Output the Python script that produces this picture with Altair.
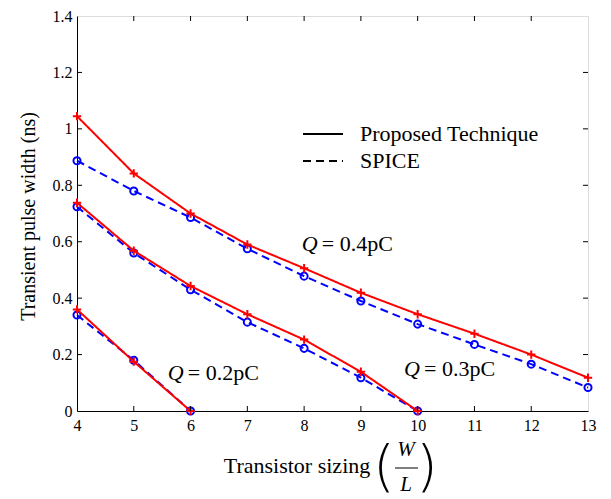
import altair as alt
import pandas as pd

# ---- data ----
x_04 = [4, 5, 6, 7, 8, 9, 10, 11, 12, 13]
prop_04 = [1.045, 0.842, 0.700, 0.590, 0.506, 0.419, 0.343, 0.274, 0.200, 0.118]
spice_04 = [0.887, 0.780, 0.686, 0.575, 0.478, 0.390, 0.308, 0.236, 0.166, 0.083]

x_03 = [4, 5, 6, 7, 8, 9, 10]
prop_03 = [0.738, 0.568, 0.443, 0.343, 0.253, 0.139, 0.0]
spice_03 = [0.724, 0.560, 0.430, 0.315, 0.222, 0.118, 0.0]

x_02 = [4, 5, 6]
prop_02 = [0.360, 0.175, 0.0]
spice_02 = [0.340, 0.180, 0.0]

methods = ["Proposed Technique", "SPICE"]

label_x = [7.96, 5.60, 9.76]
label_y = [0.593, 0.135, 0.149]
label_txt = ["= 0.4pC", "= 0.2pC", "= 0.3pC"]

x_ticks = [4, 5, 6, 7, 8, 9, 10, 11, 12, 13]
y_ticks = [0, 0.2, 0.4, 0.6, 0.8, 1.0, 1.2, 1.4]
x_inner = [5, 6, 7, 8, 9, 10, 11, 12]
y_inner = [0.2, 0.4, 0.6, 0.8, 1.0, 1.2]

FONT = "Liberation Serif"
W, H = 511, 395

rows = []
for q, xs, pv, sv in [("0.4", x_04, prop_04, spice_04),
                      ("0.3", x_03, prop_03, spice_03),
                      ("0.2", x_02, prop_02, spice_02)]:
    for x, p, s in zip(xs, pv, sv):
        rows.append({"x": x, "y": p, "method": methods[0], "Q": q})
        rows.append({"x": x, "y": s, "method": methods[1], "Q": q})
df = pd.DataFrame(rows)

xs_ = alt.Scale(domain=[4, 13], nice=False, zero=False)
ys_ = alt.Scale(domain=[0, 1.4], nice=False, zero=False)

X = alt.X("x:Q", scale=xs_,
          axis=alt.Axis(values=x_ticks, format="d", title=None, grid=False, tickSize=0,
                        labelPadding=6, labelFont=FONT, labelFontSize=16,
                        labelColor="black", domainColor="black", labelFlush=False))
Y = alt.Y("y:Q", scale=ys_,
          axis=alt.Axis(values=y_ticks, format="~g", grid=False, tickSize=0,
                        labelPadding=5, labelFont=FONT, labelFontSize=16,
                        labelColor="black", domainColor="black", labelFlush=False,
                        title="Transient pulse width (ns)", titleFont=FONT,
                        titleFontSize=20, titleFontWeight="normal", titleColor="black",
                        titleX=-49, titleY=200, titleAngle=270,
                        titleAlign="center", titleBaseline="middle"))

dash = alt.StrokeDash(
    "method:N",
    scale=alt.Scale(domain=methods, range=[[1, 0], [8, 5]]),
    legend=alt.Legend(title=None, orient="none", legendX=225, legendY=108,
                      symbolType="stroke", symbolSize=1600, symbolStrokeWidth=2,
                      symbolStrokeColor="black", labelFont=FONT, labelFontSize=22,
                      labelColor="black", labelOffset=16, labelLimit=400,
                      clipHeight=20, rowPadding=5, padding=0),
)

base = alt.Chart(df)
blue_line = base.transform_filter(alt.datum.method == "SPICE").mark_line(
    color="#0000ff", strokeWidth=2).encode(x=X, y=Y, detail="Q:N", strokeDash=dash)
blue_pts = base.transform_filter(alt.datum.method == "SPICE").mark_point(
    shape="circle", filled=False, color="#0000ff", size=50, strokeWidth=2,
    opacity=1).encode(x="x:Q", y="y:Q")
red_line = base.transform_filter(alt.datum.method == "Proposed Technique").mark_line(
    color="#ff0000", strokeWidth=2).encode(x="x:Q", y="y:Q", detail="Q:N", strokeDash=dash)
red_pts = base.transform_filter(alt.datum.method == "Proposed Technique").mark_point(
    shape="M-1,0L1,0M0,-1L0,1", filled=False, color="#ff0000", size=70,
    strokeWidth=2, opacity=1).encode(x="x:Q", y="y:Q")

# inward tick marks (MATLAB style box)
tdx = pd.DataFrame({"t": x_inner})
tdy = pd.DataFrame({"t": y_inner})
tick_len_y = 5 / (H / 1.4)
tick_len_x = 5 / (W / 9)
ticks = alt.layer(
    alt.Chart(tdx).mark_rule(color="black", strokeWidth=1).encode(
        x="t:Q", y=alt.datum(0), y2=alt.datum(tick_len_y)),
    alt.Chart(tdx).mark_rule(color="black", strokeWidth=1).encode(
        x="t:Q", y=alt.datum(1.4), y2=alt.datum(1.4 - tick_len_y)),
    alt.Chart(tdy).mark_rule(color="black", strokeWidth=1).encode(
        y="t:Q", x=alt.datum(4), x2=alt.datum(4 + tick_len_x)),
    alt.Chart(tdy).mark_rule(color="black", strokeWidth=1).encode(
        y="t:Q", x=alt.datum(13), x2=alt.datum(13 - tick_len_x)),
)

ldf = pd.DataFrame({"x": label_x, "y": label_y, "t": label_txt})
q_lab = alt.Chart(ldf).mark_text(font=FONT, fontSize=22, fontStyle="italic",
                                 align="left", baseline="middle", color="black").encode(
    x="x:Q", y="y:Q", text=alt.value("Q"))
q_val = alt.Chart(ldf).mark_text(font=FONT, fontSize=22, align="left",
                                 baseline="middle", dx=20, color="black").encode(
    x="x:Q", y="y:Q", text="t:N")

# x-axis title: Transistor sizing (W/L)
one = pd.DataFrame({"a": [0]})
xt = alt.layer(
    alt.Chart(one).mark_text(font=FONT, fontSize=22, color="black", align="center",
                             baseline="middle").encode(
        x=alt.value(220), y=alt.value(450), text=alt.value("Transistor sizing")),
    alt.Chart(one).mark_text(font="DejaVu Sans", fontSize=56, color="black", align="center",
                             baseline="middle", fontWeight=200).encode(
        x=alt.value(307), y=alt.value(452), text=alt.value("(")),
    alt.Chart(one).mark_text(font="DejaVu Sans", fontSize=56, color="black", align="center",
                             baseline="middle", fontWeight=200).encode(
        x=alt.value(350), y=alt.value(452), text=alt.value(")")),
    alt.Chart(one).mark_text(font=FONT, fontSize=21, fontStyle="italic", color="black",
                             align="center", baseline="middle").encode(
        x=alt.value(329), y=alt.value(434), text=alt.value("W")),
    alt.Chart(one).mark_text(font=FONT, fontSize=21, fontStyle="italic", color="black",
                             align="center", baseline="middle").encode(
        x=alt.value(329), y=alt.value(469), text=alt.value("L")),
    alt.Chart(one).mark_rule(color="black", strokeWidth=1).encode(
        x=alt.value(318), x2=alt.value(341), y=alt.value(452)),
)

chart = alt.layer(blue_line, blue_pts, red_line, red_pts, ticks, q_lab, q_val, xt).properties(
    width=W, height=H,
    autosize=alt.AutoSizeParams(type="none"),
    padding={"left": 69, "top": 8, "right": 15, "bottom": 87},
).configure_view(stroke="black", strokeWidth=1).configure(background="white")

chart.save("out.html", embed_options={"renderer": "svg", "actions": False})
